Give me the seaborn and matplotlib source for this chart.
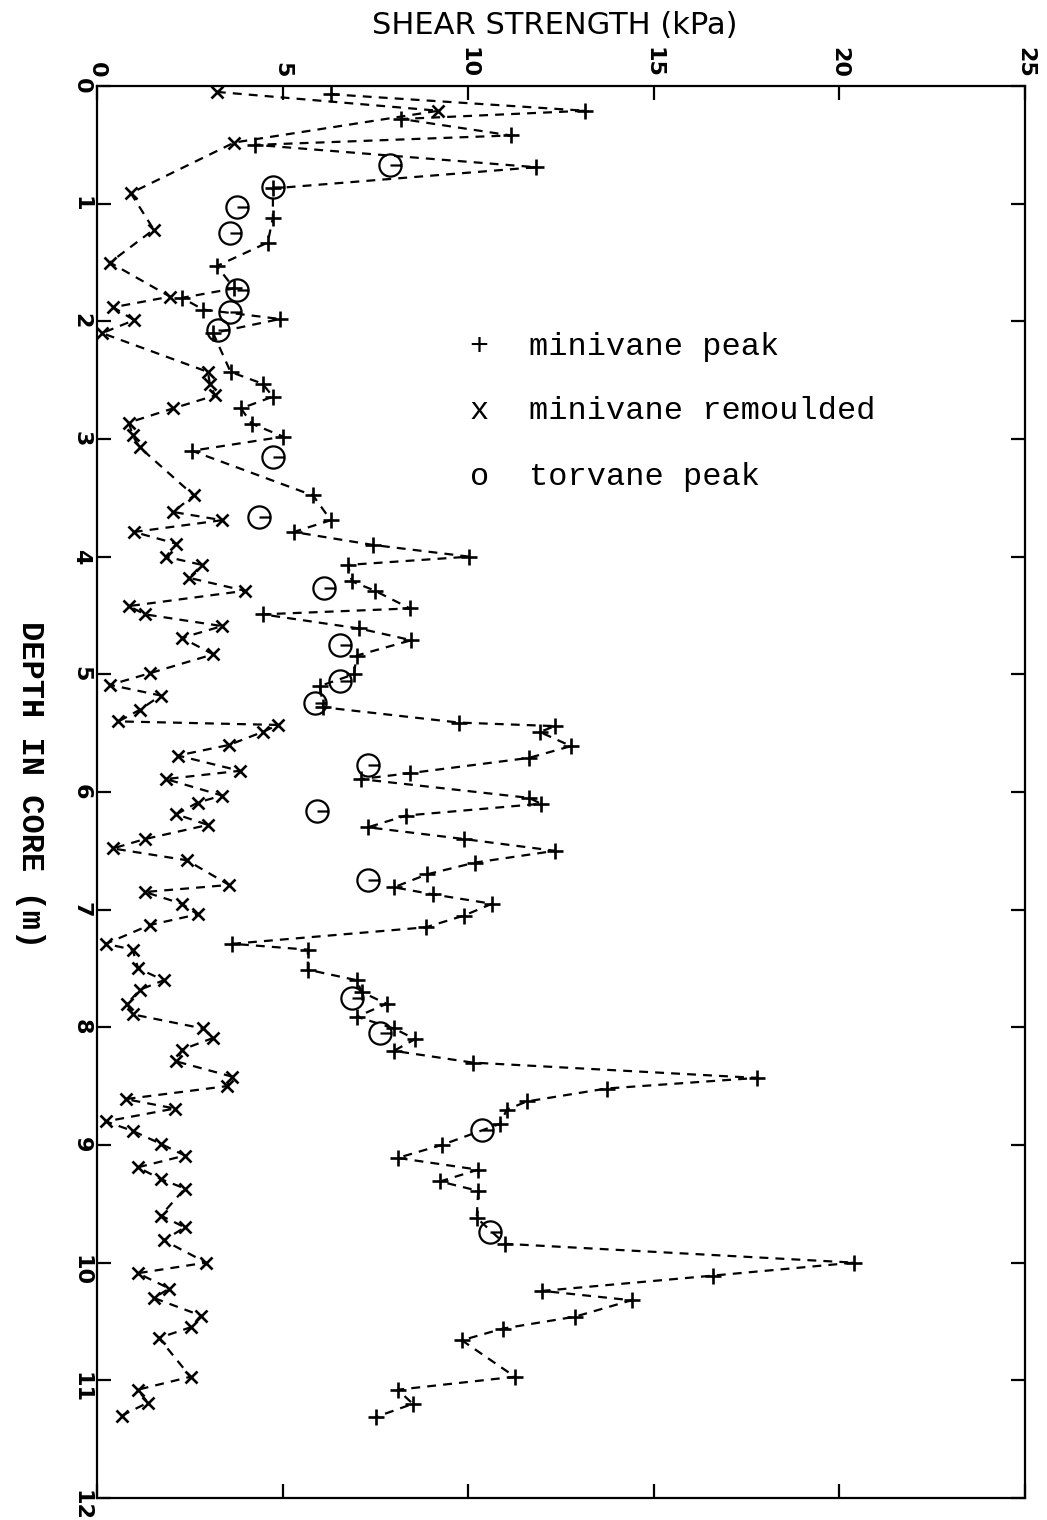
import matplotlib
matplotlib.use("Agg")
import matplotlib.pyplot as plt
from matplotlib.path import Path
import seaborn as sns

# Minivane peak shear strength (kPa) against depth in core (m)
peak_kpa = [6.3, 13.15, 8.2, 11.15, 4.27, 11.83, 4.74, 4.74, 4.6, 3.23,
            3.7, 2.29, 2.86, 4.93, 3.13, 3.6, 4.46, 4.74, 3.88, 4.17,
            5.02, 2.56, 5.82, 6.3, 5.3, 7.43, 10.03, 6.76, 6.87, 7.49,
            8.43, 4.46, 7.06, 8.47, 7.0, 6.92, 6.0, 6.1, 9.75, 12.34,
            11.93, 12.77, 11.64, 8.43, 7.1, 11.64, 11.96, 8.33, 7.3, 9.89,
            12.34, 10.18, 8.89, 8.0, 9.05, 10.64, 9.89, 8.86, 3.65, 5.68,
            5.68, 7.0, 7.13, 7.8, 7.0, 8.0, 8.57, 8.0, 10.13, 17.78,
            13.73, 11.58, 11.04, 10.86, 9.29, 8.1, 10.27, 9.24, 10.27, 10.23,
            10.99, 20.4, 16.6, 12.0, 14.4, 12.87, 10.94, 9.83, 11.26, 8.1,
            8.51, 7.53]
peak_depth = [0.07, 0.21, 0.28, 0.42, 0.5, 0.69, 0.87, 1.12, 1.33, 1.53,
              1.72, 1.8, 1.9, 1.98, 2.1, 2.43, 2.53, 2.64, 2.74, 2.87,
              2.98, 3.1, 3.48, 3.69, 3.79, 3.9, 4.0, 4.07, 4.21, 4.29,
              4.44, 4.49, 4.61, 4.71, 4.84, 5.0, 5.1, 5.28, 5.41, 5.44,
              5.49, 5.61, 5.71, 5.84, 5.89, 6.05, 6.1, 6.2, 6.3, 6.4,
              6.5, 6.6, 6.7, 6.81, 6.87, 6.95, 7.05, 7.15, 7.29, 7.34,
              7.51, 7.6, 7.7, 7.8, 7.91, 8.01, 8.1, 8.2, 8.3, 8.43,
              8.52, 8.63, 8.7, 8.82, 9.0, 9.11, 9.21, 9.31, 9.39, 9.62,
              9.84, 10.0, 10.11, 10.24, 10.32, 10.46, 10.56, 10.66, 10.97, 11.08,
              11.2, 11.31]

# Minivane remoulded shear strength (kPa) against depth (m)
remould_kpa = [3.23, 9.2, 3.7, 0.91, 1.53, 0.35, 1.97, 0.44, 1.0, 0.14,
               2.99, 3.04, 3.18, 2.05, 0.86, 0.96, 1.15, 2.61, 2.05, 3.37,
               1.0, 2.14, 1.86, 2.83, 2.48, 3.99, 0.86, 1.29, 3.37, 2.29,
               3.13, 1.43, 0.35, 1.72, 1.16, 0.58, 4.88, 4.46, 3.56, 2.18,
               3.85, 1.86, 3.37, 2.71, 2.14, 2.99, 1.29, 0.43, 2.42, 3.56,
               1.29, 2.29, 2.71, 1.43, 0.24, 0.96, 1.11, 1.8, 1.16, 0.81,
               0.96, 2.86, 3.13, 2.29, 2.14, 3.65, 3.5, 0.77, 2.1, 0.24,
               0.96, 1.72, 2.37, 1.1, 1.72, 2.37, 1.72, 2.37, 1.8, 2.94,
               1.1, 1.95, 1.53, 2.8, 2.52, 1.67, 2.52, 1.1, 1.37, 0.67]
remould_depth = [0.05, 0.21, 0.48, 0.91, 1.22, 1.5, 1.79, 1.88, 1.99, 2.1,
                 2.43, 2.53, 2.63, 2.74, 2.86, 2.97, 3.07, 3.48, 3.62, 3.69,
                 3.79, 3.89, 4.0, 4.07, 4.18, 4.29, 4.42, 4.49, 4.59, 4.69,
                 4.83, 4.99, 5.09, 5.18, 5.3, 5.4, 5.43, 5.49, 5.6, 5.69,
                 5.82, 5.89, 6.03, 6.09, 6.19, 6.28, 6.4, 6.48, 6.58, 6.79,
                 6.85, 6.95, 7.04, 7.13, 7.29, 7.34, 7.5, 7.6, 7.68, 7.8,
                 7.89, 8.01, 8.09, 8.19, 8.29, 8.42, 8.5, 8.61, 8.69, 8.8,
                 8.88, 8.99, 9.09, 9.19, 9.29, 9.37, 9.6, 9.7, 9.81, 10.0,
                 10.09, 10.22, 10.3, 10.45, 10.55, 10.64, 10.97, 11.08, 11.19, 11.3]

# Torvane peak shear strength (kPa) against depth (m)
torvane_kpa = [7.9, 4.74, 3.76, 3.58, 3.76, 3.58, 3.26, 4.74, 4.36, 6.12,
               6.55, 6.55, 5.87, 7.3, 5.93, 7.3, 6.87, 7.62, 10.37, 10.59]
torvane_depth = [0.67, 0.86, 1.03, 1.25, 1.73, 1.92, 2.07, 3.15, 3.66, 4.27,
                 4.75, 5.06, 5.24, 5.77, 6.16, 6.75, 7.75, 8.05, 8.87, 9.74]

x_ticks = [0, 5, 10, 15, 20, 25]
y_ticks = list(range(0, 13))
legend_symbols = ["+", "x", "o"]
legend_labels = ["minivane peak", "minivane remoulded", "torvane peak"]

sns.set_style("ticks")
plt.rcParams["font.family"] = ["DejaVu Sans"]

fig = plt.figure(figsize=(10.47, 15.2), dpi=100)
ax = fig.add_axes([0.0926, 0.0145, 0.8864, 0.9289])

dash = (0, (4.0, 3.2))
sns.lineplot(x=peak_kpa, y=peak_depth, sort=False, estimator=None, ax=ax,
             color="black", linewidth=1.6, linestyle=dash,
             marker="+", markersize=11, markeredgewidth=1.9,
             markeredgecolor="black")
sns.lineplot(x=remould_kpa, y=remould_depth, sort=False, estimator=None, ax=ax,
             color="black", linewidth=1.6, linestyle=dash,
             marker="x", markersize=8, markeredgewidth=1.9,
             markeredgecolor="black")

# open circle with a short bar from the centre to the right edge
ring = Path.unit_circle()
bar = Path([(0.0, 0.0), (1.0, 0.0)], [Path.MOVETO, Path.LINETO])
torvane_marker = Path.make_compound_path(ring, bar)
sns.lineplot(x=torvane_kpa, y=torvane_depth, sort=False, estimator=None, ax=ax,
             color="black", linestyle="", marker=torvane_marker,
             markersize=16, markeredgewidth=1.6, markerfacecolor="none",
             markeredgecolor="black")

ax.set_xlim(0, 25)
ax.set_ylim(12, 0)
ax.set_xticks(x_ticks)
ax.set_yticks(y_ticks)
ax.set_xticklabels([str(t) for t in x_ticks])
ax.set_yticklabels([str(t) for t in y_ticks])
ax.set_xlabel("")
ax.set_ylabel("")

ax.tick_params(axis="both", which="both", direction="in", length=10, width=1.6,
               top=True, bottom=True, left=True, right=True,
               labeltop=True, labelbottom=False, labelleft=True, labelright=False,
               labelsize=16, colors="black")
ax.tick_params(axis="x", labelrotation=-90, pad=6)
ax.tick_params(axis="y", labelrotation=-90, pad=4)
for lab in ax.get_xticklabels(which="both") + ax.get_yticklabels():
    lab.set_fontweight("bold")
for tick in ax.xaxis.get_major_ticks():
    tick.label2.set_fontweight("bold")

for sp in ax.spines.values():
    sp.set_visible(True)
    sp.set_linewidth(1.6)
    sp.set_color("black")

# legend written as text rows
row_depths = [2.22, 2.76, 3.32]
for sym, lab, yd in zip(legend_symbols, legend_labels, row_depths):
    ax.text(10.3, yd, sym, ha="center", va="center", fontsize=23,
            family="Liberation Mono", color="black")
    ax.text(11.65, yd, lab, ha="left", va="center", fontsize=23,
            family="Liberation Mono", color="black")

fig.text(555 / 1047, 1 - 25 / 1520, "SHEAR STRENGTH (kPa)", ha="center",
         va="center", fontsize=22, family=["Liberation Sans Narrow", "DejaVu Sans"],
         color="black")
fig.text(30 / 1047, 1 - 785 / 1520, "DEPTH IN CORE (m)", ha="center",
         va="center", rotation=-90, fontsize=23, family="Liberation Mono",
         fontweight="bold", color="black")

fig.savefig("out.png", dpi=100, facecolor="white")
